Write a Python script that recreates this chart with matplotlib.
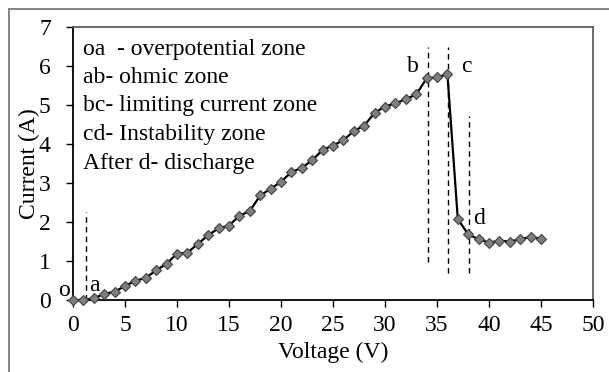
import matplotlib.pyplot as plt
from matplotlib.patches import Rectangle

plt.rcParams['font.family'] = ['Liberation Serif', 'DejaVu Serif']

# Voltage (V) and measured current (A)
voltage = list(range(0, 46))
current = [0.00, 0.00, 0.04, 0.16, 0.21, 0.36, 0.49, 0.57, 0.76, 0.93,
           1.19, 1.21, 1.44, 1.66, 1.84, 1.91, 2.16, 2.28, 2.68, 2.85,
           3.03, 3.28, 3.39, 3.58, 3.85, 3.96, 4.10, 4.33, 4.47, 4.80,
           4.96, 5.04, 5.15, 5.27, 5.68, 5.71, 5.79, 2.08, 1.68, 1.56,
           1.47, 1.52, 1.50, 1.56, 1.62, 1.57]

# zone boundaries: x, y bottom, y top
boundaries = [(1.25, 0.0, 2.26), (34.1, 0.97, 6.49), (36.1, 0.69, 6.49), (38.1, 0.69, 4.72)]

# point labels
point_names = ['o', 'a', 'b', 'c', 'd']
point_x = [-0.9, 2.1, 32.7, 37.8, 39.0]
point_y = [0.25, 0.38, 6.0, 6.0, 2.08]

legend_lines = ['oa  - overpotential zone', 'ab- ohmic zone', 'bc- limiting current zone',
                'cd- Instability zone', 'After d- discharge']

fs = 17

fig = plt.figure(figsize=(6.09, 3.72), dpi=100)
ax = fig.add_axes([73 / 609, 1 - 300 / 372, 520 / 609, 273 / 372])

# gray outer frame (cropped at right/bottom)
fig.patches.append(Rectangle((9 / 609, -0.1), 1.2, 1 - 9 / 372 + 0.1, transform=fig.transFigure,
                             fill=False, edgecolor='#707070', linewidth=1.2))

for bx, y0, y1 in boundaries:
    ax.plot([bx, bx], [y0, y1], color='black', linestyle=(0, (4, 3)), linewidth=1.0)

ax.plot(voltage, current, color='black', linewidth=1.6, marker='D', markersize=5,
        markerfacecolor='#7f7f7f', markeredgecolor='#404040', markeredgewidth=0.8, clip_on=False, zorder=3)

for name, px, py in zip(point_names, point_x, point_y):
    ax.text(px, py, name, fontsize=fs, ha='center', va='center')

for i, line in enumerate(legend_lines):
    fig.text(83 / 609, 1 - (49 + 28.5 * i) / 372, line, fontsize=fs, ha='left', va='center')

ax.set_xlim(0, 50)
ax.set_ylim(0, 7)
ax.set_xticks(range(0, 51, 5))
ax.set_yticks(range(0, 8))
ax.tick_params(labelsize=fs, length=5, width=1, color='black')
ax.tick_params(axis='x', pad=6)
ax.tick_params(axis='y', pad=11)
for s in ['left', 'bottom']:
    ax.spines[s].set_linewidth(1.3)
for s in ['top', 'right']:
    ax.spines[s].set_color('#606060')
    ax.spines[s].set_linewidth(1.3)
ax.set_xlabel('Voltage (V)', fontsize=fs, labelpad=4)
ax.set_ylabel('Current (A)', fontsize=fs, labelpad=-1)

fig.savefig('out.png', dpi=100)
